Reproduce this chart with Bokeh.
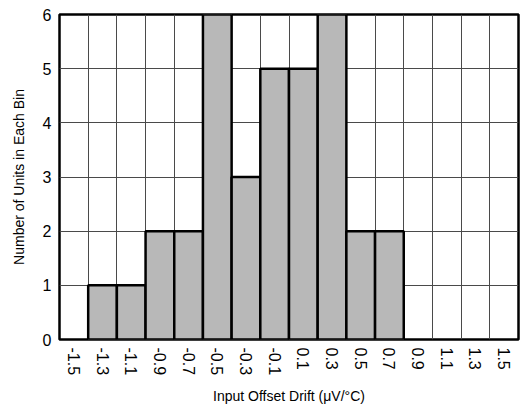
from bokeh.plotting import figure
from bokeh.models import FixedTicker, Grid, ColumnDataSource
from bokeh.embed import file_html
from bokeh.resources import INLINE

bin_labels = ["-1.5", "-1.3", "-1.1", "-0.9", "-0.7", "-0.5", "-0.3", "-0.1",
              "0.1", "0.3", "0.5", "0.7", "0.9", "1.1", "1.3", "1.5"]
counts = [0, 1, 1, 2, 2, 6, 3, 5, 5, 6, 2, 2, 0, 0, 0, 0]
y_ticks = [0, 1, 2, 3, 4, 5, 6]

n = len(bin_labels)
xs = [i + 0.5 for i in range(n) if counts[i] > 0]
hs = [counts[i] for i in range(n) if counts[i] > 0]
src = ColumnDataSource(dict(x=xs, top=hs))

p = figure(width=520, height=416, output_backend="svg", toolbar_location=None,
           x_range=(0, n), y_range=(0, 6),
           min_border_left=59, min_border_right=2, min_border_top=14, min_border_bottom=77)

p.xgrid.visible = False
p.ygrid.visible = False
p.add_layout(Grid(dimension=0, ticker=FixedTicker(ticks=list(range(n + 1))),
                  grid_line_color="#4a4a4a", grid_line_width=1))
p.add_layout(Grid(dimension=1, ticker=FixedTicker(ticks=y_ticks),
                  grid_line_color="#4a4a4a", grid_line_width=1))

p.vbar(x="x", top="top", bottom=0, width=1, source=src,
       fill_color="#b8b8b8", line_color="black", line_width=2.5)

p.outline_line_color = "black"
p.outline_line_width = 2.5
p.outline_line_alpha = 1

p.xaxis.ticker = FixedTicker(ticks=[i + 0.5 for i in range(n)])
p.xaxis.major_label_overrides = {i + 0.5: bin_labels[i] for i in range(n)}
p.xaxis.major_label_orientation = "vertical"
p.yaxis.ticker = FixedTicker(ticks=y_ticks)

for ax in (p.xaxis[0], p.yaxis[0]):
    ax.axis_line_color = None
    ax.major_tick_line_color = None
    ax.minor_tick_line_color = None
    ax.major_tick_out = 0
    ax.major_tick_in = 0
    ax.minor_tick_out = 0
    ax.minor_tick_in = 0
    ax.major_label_text_font = "Liberation Sans"
    ax.major_label_text_font_size = "16px"
    ax.major_label_text_color = "black"
    ax.axis_label_text_font = "Liberation Sans"
    ax.axis_label_text_font_size = "14px"
    ax.axis_label_text_font_style = "normal"
    ax.axis_label_text_color = "black"

p.xaxis.major_label_standoff = 8
p.yaxis.major_label_standoff = 8
p.xaxis.axis_label = "Input Offset Drift (μV/°C)"
p.yaxis.axis_label = "Number of Units in Each Bin"
p.xaxis.axis_label_standoff = 10
p.yaxis.axis_label_standoff = 13

open("out.html", "w").write(file_html(p, INLINE))
